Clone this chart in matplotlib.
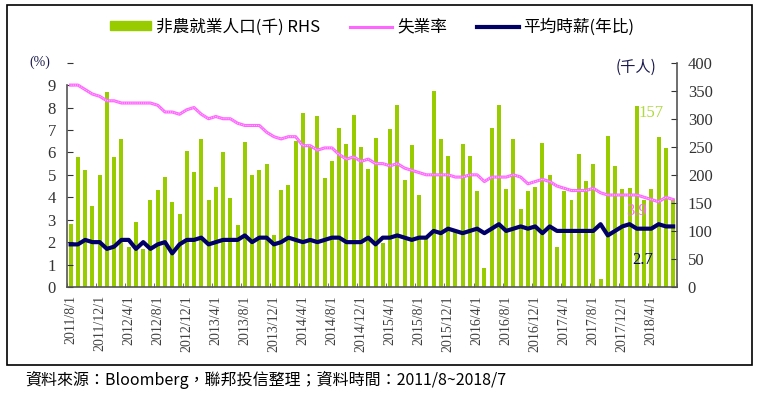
# US jobs chart: nonfarm payrolls (bars, RHS), unemployment rate and
# average hourly earnings yoy (lines, LHS)

import matplotlib
matplotlib.use('Agg')
import matplotlib.pyplot as plt
import matplotlib.patches as mpatches
from matplotlib.lines import Line2D
import numpy as np

plt.rcParams['font.family'] = ['Liberation Serif', 'Noto Sans CJK TC', 'DejaVu Sans']

# Data: 2011/8 .. 2018/7 monthly
months = []
for y in range(2011, 2019):
    for m in range(1, 13):
        if (y == 2011 and m < 8) or (y == 2018 and m > 7):
            continue
        months.append('%d/%d/1' % (y, m))

nfp = [112, 232, 208, 144, 200, 347, 232, 264, 71, 116, 67, 155, 173, 196, 152, 130, 243, 205, 264, 155, 179,
       240, 158, 110, 259, 200, 208, 220, 92, 173, 182, 261, 310, 250, 305, 195, 225, 283, 255, 306, 250, 210,
       266, 78, 281, 324, 190, 254, 164, 85, 349, 263, 233, 98, 255, 233, 172, 33, 284, 324, 174, 263, 139,
       171, 178, 257, 200, 72, 172, 155, 238, 189, 220, 14, 269, 215, 175, 176, 323, 155, 175, 267, 247, 157]

unemp = [9.0, 9.0, 8.8, 8.6, 8.5, 8.3, 8.3, 8.2, 8.2, 8.2, 8.2, 8.2, 8.1, 7.8, 7.8, 7.7, 7.9, 8.0, 7.7, 7.5, 7.6,
         7.5, 7.5, 7.3, 7.2, 7.2, 7.2, 6.9, 6.7, 6.6, 6.7, 6.7, 6.3, 6.3, 6.1, 6.2, 6.2, 5.9, 5.7, 5.8, 5.6, 5.7,
         5.5, 5.5, 5.4, 5.5, 5.3, 5.2, 5.1, 5.0, 5.0, 5.0, 5.0, 4.9, 4.9, 5.0, 5.0, 4.7, 4.9, 4.9, 4.9, 5.0, 4.9,
         4.6, 4.7, 4.8, 4.7, 4.5, 4.4, 4.3, 4.3, 4.3, 4.4, 4.2, 4.1, 4.1, 4.1, 4.1, 4.1, 4.0, 3.9, 3.8, 4.0, 3.9]

wage = [1.9, 1.9, 2.1, 2.0, 2.0, 1.7, 1.8, 2.1, 2.1, 1.7, 2.0, 1.7, 1.9, 2.0, 1.5, 1.9, 2.1, 2.1, 2.2, 1.9, 2.0,
        2.1, 2.1, 2.1, 2.3, 2.0, 2.2, 2.2, 1.9, 2.0, 2.2, 2.1, 2.0, 2.1, 2.0, 2.1, 2.2, 2.2, 2.0, 2.0, 2.0, 2.2,
        1.9, 2.2, 2.2, 2.3, 2.2, 2.1, 2.2, 2.2, 2.5, 2.4, 2.6, 2.5, 2.4, 2.5, 2.6, 2.4, 2.6, 2.8, 2.5, 2.6, 2.7,
        2.6, 2.7, 2.4, 2.7, 2.5, 2.5, 2.5, 2.5, 2.5, 2.5, 2.8, 2.3, 2.5, 2.7, 2.8, 2.6, 2.6, 2.6, 2.8, 2.7, 2.7]

green = '#99cc00'
pink = '#ff66ff'
navy = '#000066'

x = np.arange(len(months))

fig = plt.figure(figsize=(7.57, 3.95), dpi=100)
ax1 = fig.add_axes([0.0885, 0.2734, 0.8055, 0.568])
ax2 = ax1.twinx()

# bars on right axis
ax2.bar(x, nfp, width=0.55, color=green, zorder=1)
ax2.set_ylim(0, 400)
ax2.set_yticks(np.arange(0, 401, 50))

# lines on left axis, drawn above the bars
ax1.set_zorder(ax2.get_zorder() + 1)
ax1.patch.set_visible(False)
ax1.plot(x, unemp, color=pink, linewidth=2.2, zorder=3)
ax1.plot(x, unemp, color='white', linewidth=0.7, linestyle=(0, (1, 1.2)), alpha=0.7, zorder=4)
ax1.plot(x, wage, color=navy, linewidth=3, zorder=5)
ax1.set_ylim(0, 10)
ax1.set_yticks(np.arange(0, 11, 1))
ax1.set_yticklabels([str(v) for v in range(10)] + [''])
ax1.set_xlim(-0.5, len(months) - 0.5)

ax1.set_xticks(x[::4])
ax1.set_xticklabels(months[::4], rotation=90, fontsize=10, color='#404040')
ax1.set_xticks(np.arange(-0.5, len(months), 4), minor=True)
ax1.tick_params(axis='x', which='major', length=0, pad=6)
ax1.tick_params(axis='x', which='minor', direction='in', length=3, color='#555555')
ax1.tick_params(axis='y', direction='in', length=4, labelsize=12, colors='#333333', pad=8)
ax2.tick_params(axis='y', direction='in', length=4, labelsize=12, colors='#333333', pad=8)

for a in (ax1, ax2):
    a.spines['top'].set_visible(False)
    for s in a.spines.values():
        s.set_color('#555555')
        s.set_linewidth(1.2)
ax1.spines['left'].set_bounds(0, 9)
ax1.spines['right'].set_visible(False)
ax2.spines['left'].set_visible(False)
ax2.spines['bottom'].set_visible(False)

# axis unit labels
fig.text(40 / 757, 1 - 62 / 395, '(%)', fontsize=10, ha='center', va='center', color='#1a1a4d')
fig.text(636 / 757, 1 - 67 / 395, '(千人)', fontsize=11, ha='center', va='center',
         family=['Noto Sans CJK TC', 'DejaVu Sans'], color='#1a1a4d')

# end-value annotations
ax2.text(80, 310, '157', color='#b0d840', fontsize=12, ha='center', va='center')
ax1.text(77.9, 3.4, '3.9', color=pink, fontsize=12, ha='center', va='center')
ax1.text(78.8, 1.2, '2.7', color=navy, fontsize=12, ha='center', va='center')

# legend
handles = [mpatches.Patch(color=green),
           Line2D([0], [0], color=pink, linewidth=2.2),
           Line2D([0], [0], color=navy, linewidth=3)]
labels = ['非農就業人口(千) RHS', '失業率', '平均時薪(年比)']
fig.legend(handles, labels, loc='center', bbox_to_anchor=(372 / 757, 1 - 27 / 395), ncol=3,
           frameon=False, handlelength=2.5, handleheight=0.45, handletextpad=0.3, columnspacing=1.8,
           prop={'family': ['Noto Sans CJK TC', 'DejaVu Sans'], 'size': 12})

# outer frame
fig.patches.append(mpatches.Rectangle((7 / 757, 1 - 365 / 395), 745 / 757, 360 / 395,
                                      transform=fig.transFigure, fill=False,
                                      edgecolor='black', linewidth=1.2))

fig.text(25 / 757, 1 - 380 / 395, '資料來源：Bloomberg，聯邦投信整理；資料時間：2011/8~2018/7',
         fontsize=11.5, ha='left', va='center', family=['Noto Sans CJK TC', 'DejaVu Sans'])

plt.savefig('out.png', dpi=100)
